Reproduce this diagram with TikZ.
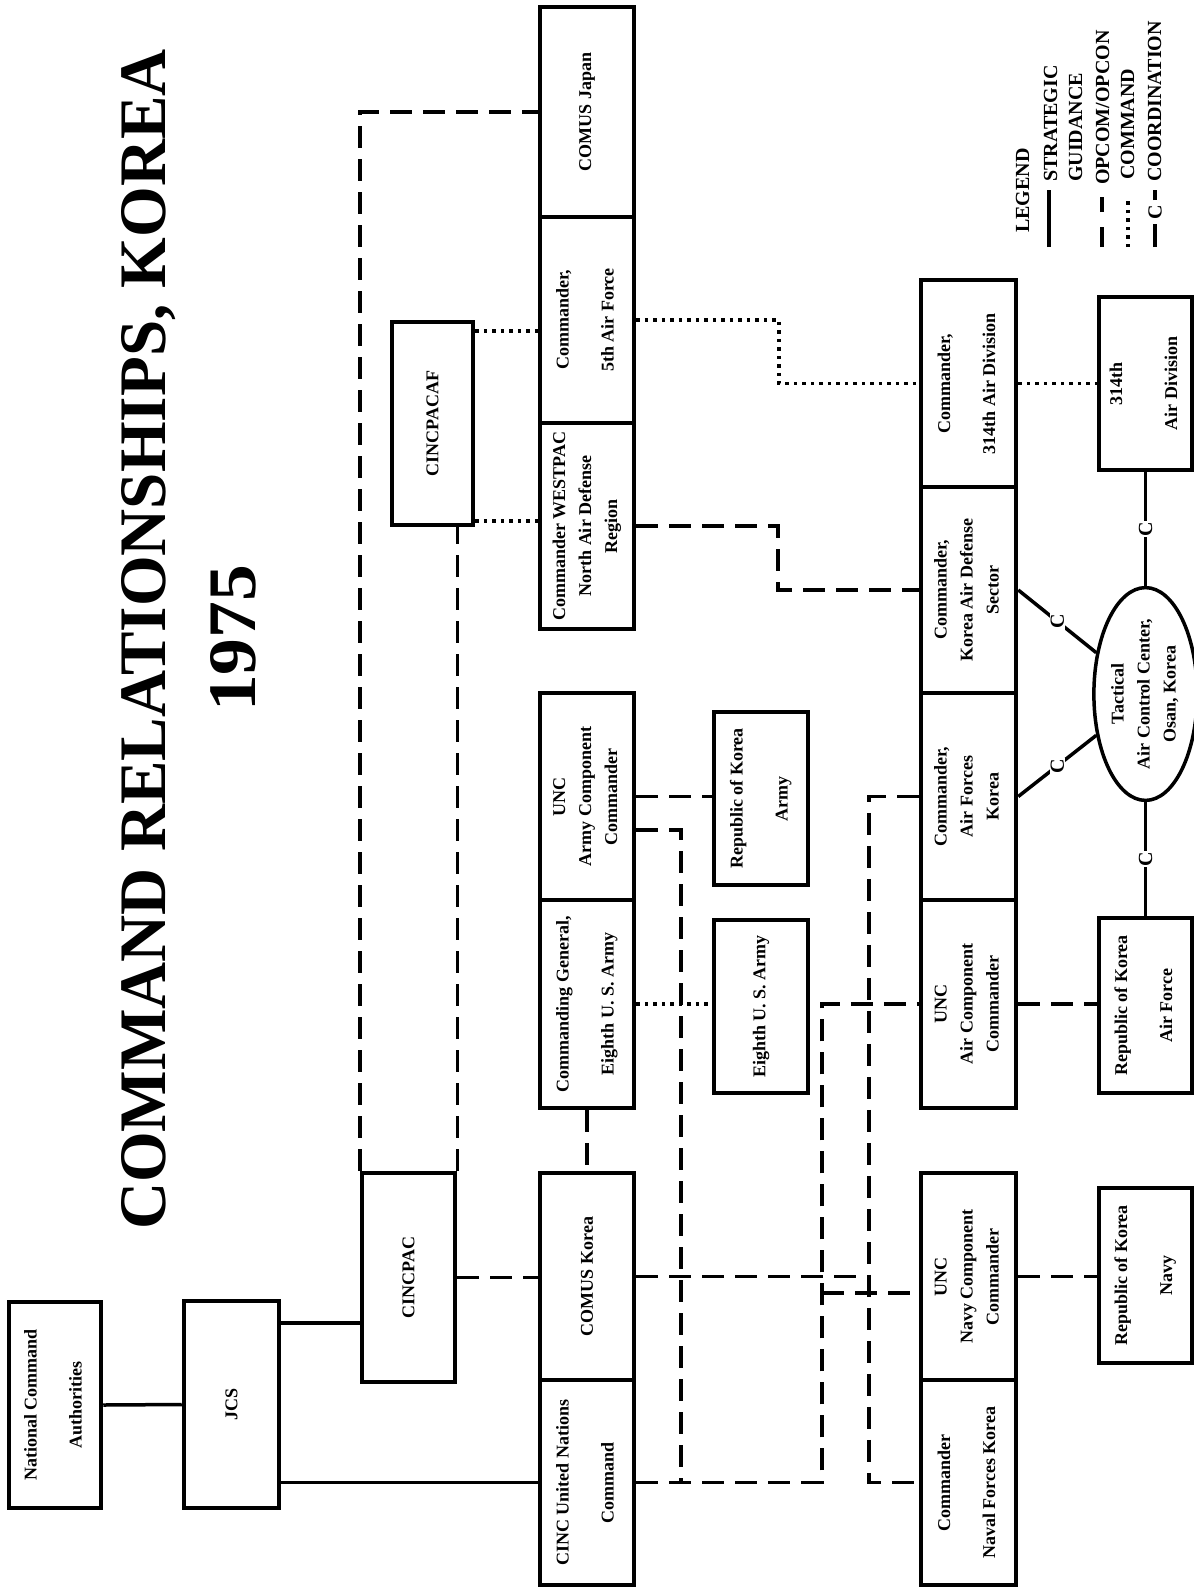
\documentclass[tikz,border=0pt]{standalone}
\usepackage{fontspec}
\setmainfont{Liberation Serif}
\usepackage{graphicx}
\usetikzlibrary{shapes.geometric,calc}
\newcommand\lone[1]{\rotatebox{90}{#1}}
\newcommand\ltwo[3][24pt]{\rotatebox{90}{\begin{tabular}{@{}c@{}}#2\\[#1]#3\end{tabular}}}
\newcommand\lthree[3]{\rotatebox{90}{\begin{tabular}{@{}c@{}}#1\\[5pt]#2\\[5pt]#3\end{tabular}}}
\begin{document}
\begin{tikzpicture}[x=1pt,y=-1pt,
 bxnode/.style={draw, line width=4.5pt, fill=white, inner sep=0pt, font=\bfseries\fontsize{18}{21}\selectfont},
 sgline/.style={line width=3.5pt},
 opline/.style={line width=3.5pt, dash pattern=on 22pt off 11pt},
 cmline/.style={line width=3.5pt, dash pattern=on 3.5pt off 5pt},
 cnode/.style={rotate=90, fill=white, inner sep=1pt, font=\bfseries\fontsize{20}{24}\selectfont},
 legtext/.style={rotate=90, anchor=base west, inner sep=0pt, font=\bfseries\fontsize{20}{24}\selectfont}]
\fill[white] (0,0) rectangle (1194,1588);
\useasboundingbox (0,0) rectangle (1194,1588);

% title
\node[rotate=90, anchor=base west, inner sep=0pt] (title) at (165,1230)
  {\resizebox{1180pt}{44pt}{\bfseries COMMAND RELATIONSHIPS, KOREA}};
\node[rotate=90, anchor=base west, inner sep=0pt] (year) at (255,712)
  {\resizebox{147pt}{45pt}{\bfseries 1975}};

% boxes
\node[bxnode, minimum width=92pt, minimum height=206pt] (nca) at (55,1405) {\ltwo{National Command}{Authorities}};
\node[bxnode, minimum width=95pt, minimum height=207pt] (jcs) at (231.5,1404.5) {\lone{JCS}};
\node[bxnode, minimum width=93pt, minimum height=209pt] (cpac) at (408.5,1277.5) {\lone{CINCPAC}};
\node[bxnode, minimum width=81pt, minimum height=203pt] (cpacaf) at (432.5,423.5) {\lone{CINCPACAF}};

\node[bxnode, minimum width=94pt, minimum height=210pt] (cj) at (587,112) {\lone{COMUS Japan}};
\node[bxnode, minimum width=94pt, minimum height=206pt] (faf) at (587,320) {\ltwo{Commander,}{5th Air Force}};
\node[bxnode, minimum width=94pt, minimum height=206pt] (wp) at (587,526) {\lthree{Commander WESTPAC}{North Air Defense}{Region}};
\node[bxnode, minimum width=94pt, minimum height=207pt] (uacc) at (587,796.5) {\lthree{UNC}{Army Component}{Commander}};
\node[bxnode, minimum width=94pt, minimum height=208pt] (cg8) at (587,1004) {\ltwo{Commanding General,}{Eighth U. S. Army}};
\node[bxnode, minimum width=94pt, minimum height=207pt] (ck) at (587,1276.5) {\lone{COMUS Korea}};
\node[bxnode, minimum width=94pt, minimum height=205pt] (cunc) at (587,1482.5) {\ltwo{CINC United Nations}{Command}};

\node[bxnode, minimum width=94pt, minimum height=173pt] (roka) at (761,798.5) {\ltwo{Republic of Korea}{Army}};
\node[bxnode, minimum width=94pt, minimum height=173pt] (e8) at (761,1006.5) {\lone{Eighth U. S. Army}};

\node[bxnode, minimum width=95pt, minimum height=207pt] (c314) at (968.5,383.5) {\ltwo{Commander,}{314th Air Division}};
\node[bxnode, minimum width=95pt, minimum height=206pt] (kads) at (968.5,590) {\lthree{Commander,}{Korea Air Defense}{Sector}};
\node[bxnode, minimum width=95pt, minimum height=207pt] (afk) at (968.5,796.5) {\lthree{Commander,}{Air Forces}{Korea}};
\node[bxnode, minimum width=95pt, minimum height=208pt] (uaircc) at (968.5,1004) {\lthree{UNC}{Air Component}{Commander}};
\node[bxnode, minimum width=95pt, minimum height=207pt] (uncn) at (968.5,1276.5) {\lthree{UNC}{Navy Component}{Commander}};
\node[bxnode, minimum width=95pt, minimum height=205pt] (nfk) at (968.5,1482.5) {\ltwo{Commander}{Naval Forces Korea}};

\node[bxnode, minimum width=93pt, minimum height=173pt] (ad314) at (1145.5,383.5) {\ltwo[34pt]{314th}{Air Division}};
\node[bxnode, minimum width=93pt, minimum height=175pt] (rokaf) at (1145.5,1005.5) {\ltwo{Republic of Korea}{Air Force}};
\node[bxnode, minimum width=93pt, minimum height=175pt] (roknavy) at (1145.5,1275.5) {\ltwo{Republic of Korea}{Navy}};
\node[bxnode, ellipse, line width=3.5pt, minimum width=86pt, minimum height=212pt] (ell) at (1145.5,694)
  {\lthree{Tactical}{Air Control Center,}{Osan, Korea}};

% helper coordinates
\coordinate (c331) at (0,331);
\coordinate (c521) at (0,521);
\coordinate (c1323) at (0,1323);
\coordinate (c830) at (0,830);
\coordinate (k778) at (778,558);
\coordinate (k779) at (779,352);
\coordinate (j681) at (681,1482.5);
\coordinate (j822) at (822,1482.5);
\coordinate (j822b) at (822,1293);
\coordinate (j869) at (869,1482.5);

% strategic guidance
\draw[sgline] (nca.east) -- (jcs.west);
\draw[sgline] (jcs.east |- c1323) -- (cpac.west |- c1323);
\draw[sgline] (jcs.east |- cunc.west) -- (cunc.west);

% opcom / opcon
\draw[opline] (cpac.north west) |- (cj.west);
\draw[opline] (cpac.north east) -- (cpac.north east |- cpacaf.south);
\draw[opline] (cpac.east) -- (cpac.east -| ck.west);
\draw[opline] (cg8.south) -- (ck.north);
\draw[opline] (uacc.east) -- (uacc.east -| roka.west);
\draw[opline] (uacc.east |- c830) -| (j681);
\draw[opline] (cunc.east) -- (j822) |- (uaircc.west);
\draw[opline] (j822b) -- (j822b -| uncn.west);
\draw[opline] (afk.west) -| (j869) -- (nfk.west);
\draw[opline] (ck.east) -- (ck.east -| j869);
\draw[opline] (uaircc.east) -- (uaircc.east -| rokaf.west);
\draw[opline] (uncn.east) -- (uncn.east -| roknavy.west);
\draw[opline] (wp.east) -| (k778) |- (kads.west);

% command
\draw[cmline] (cpacaf.east |- c331) -- (faf.west |- c331);
\draw[cmline] (cpacaf.east |- c521) -- (wp.west |- c521);
\draw[cmline] (faf.east) -| (k779) |- (c314.west);
\draw[cmline] (c314.east) -- (c314.east -| ad314.west);
\draw[cmline] (cg8.east) -- (cg8.east -| e8.west);

% coordination
\draw[sgline] (ad314.south) -- node[cnode] {C} (ell.north);
\draw[sgline] (ell.south) -- node[cnode] {C} (rokaf.north);
\draw[sgline] (kads.east) -- node[cnode] {C} (ell.140);
\draw[sgline] (afk.east) -- node[cnode] {C} (ell.220);

% legend
\node[legtext] (lg) at (1029,233) {LEGEND};
\draw[sgline] (1049,247) -- (1049,190);
\node[legtext] (l1) at (1057,182) {STRATEGIC};
\node[legtext] (l1b) at (1082,182) {GUIDANCE};
\draw[line width=3.5pt] (1102,247) -- (1102,227) (1102,212) -- (1102,197);
\node[legtext] (l2) at (1109,185) {OPCOM/OPCON};
\draw[cmline] (1128,247) -- (1128,198);
\node[legtext] (l3) at (1134,180) {COMMAND};
\draw[sgline] (1155,247) -- (1155,224);
\node[cnode, inner sep=0pt] (lc) at (1155,212) {C};
\draw[sgline] (1155,200) -- (1155,190);
\node[legtext] (l4) at (1161,182) {COORDINATION};
\end{tikzpicture}
\end{document}
